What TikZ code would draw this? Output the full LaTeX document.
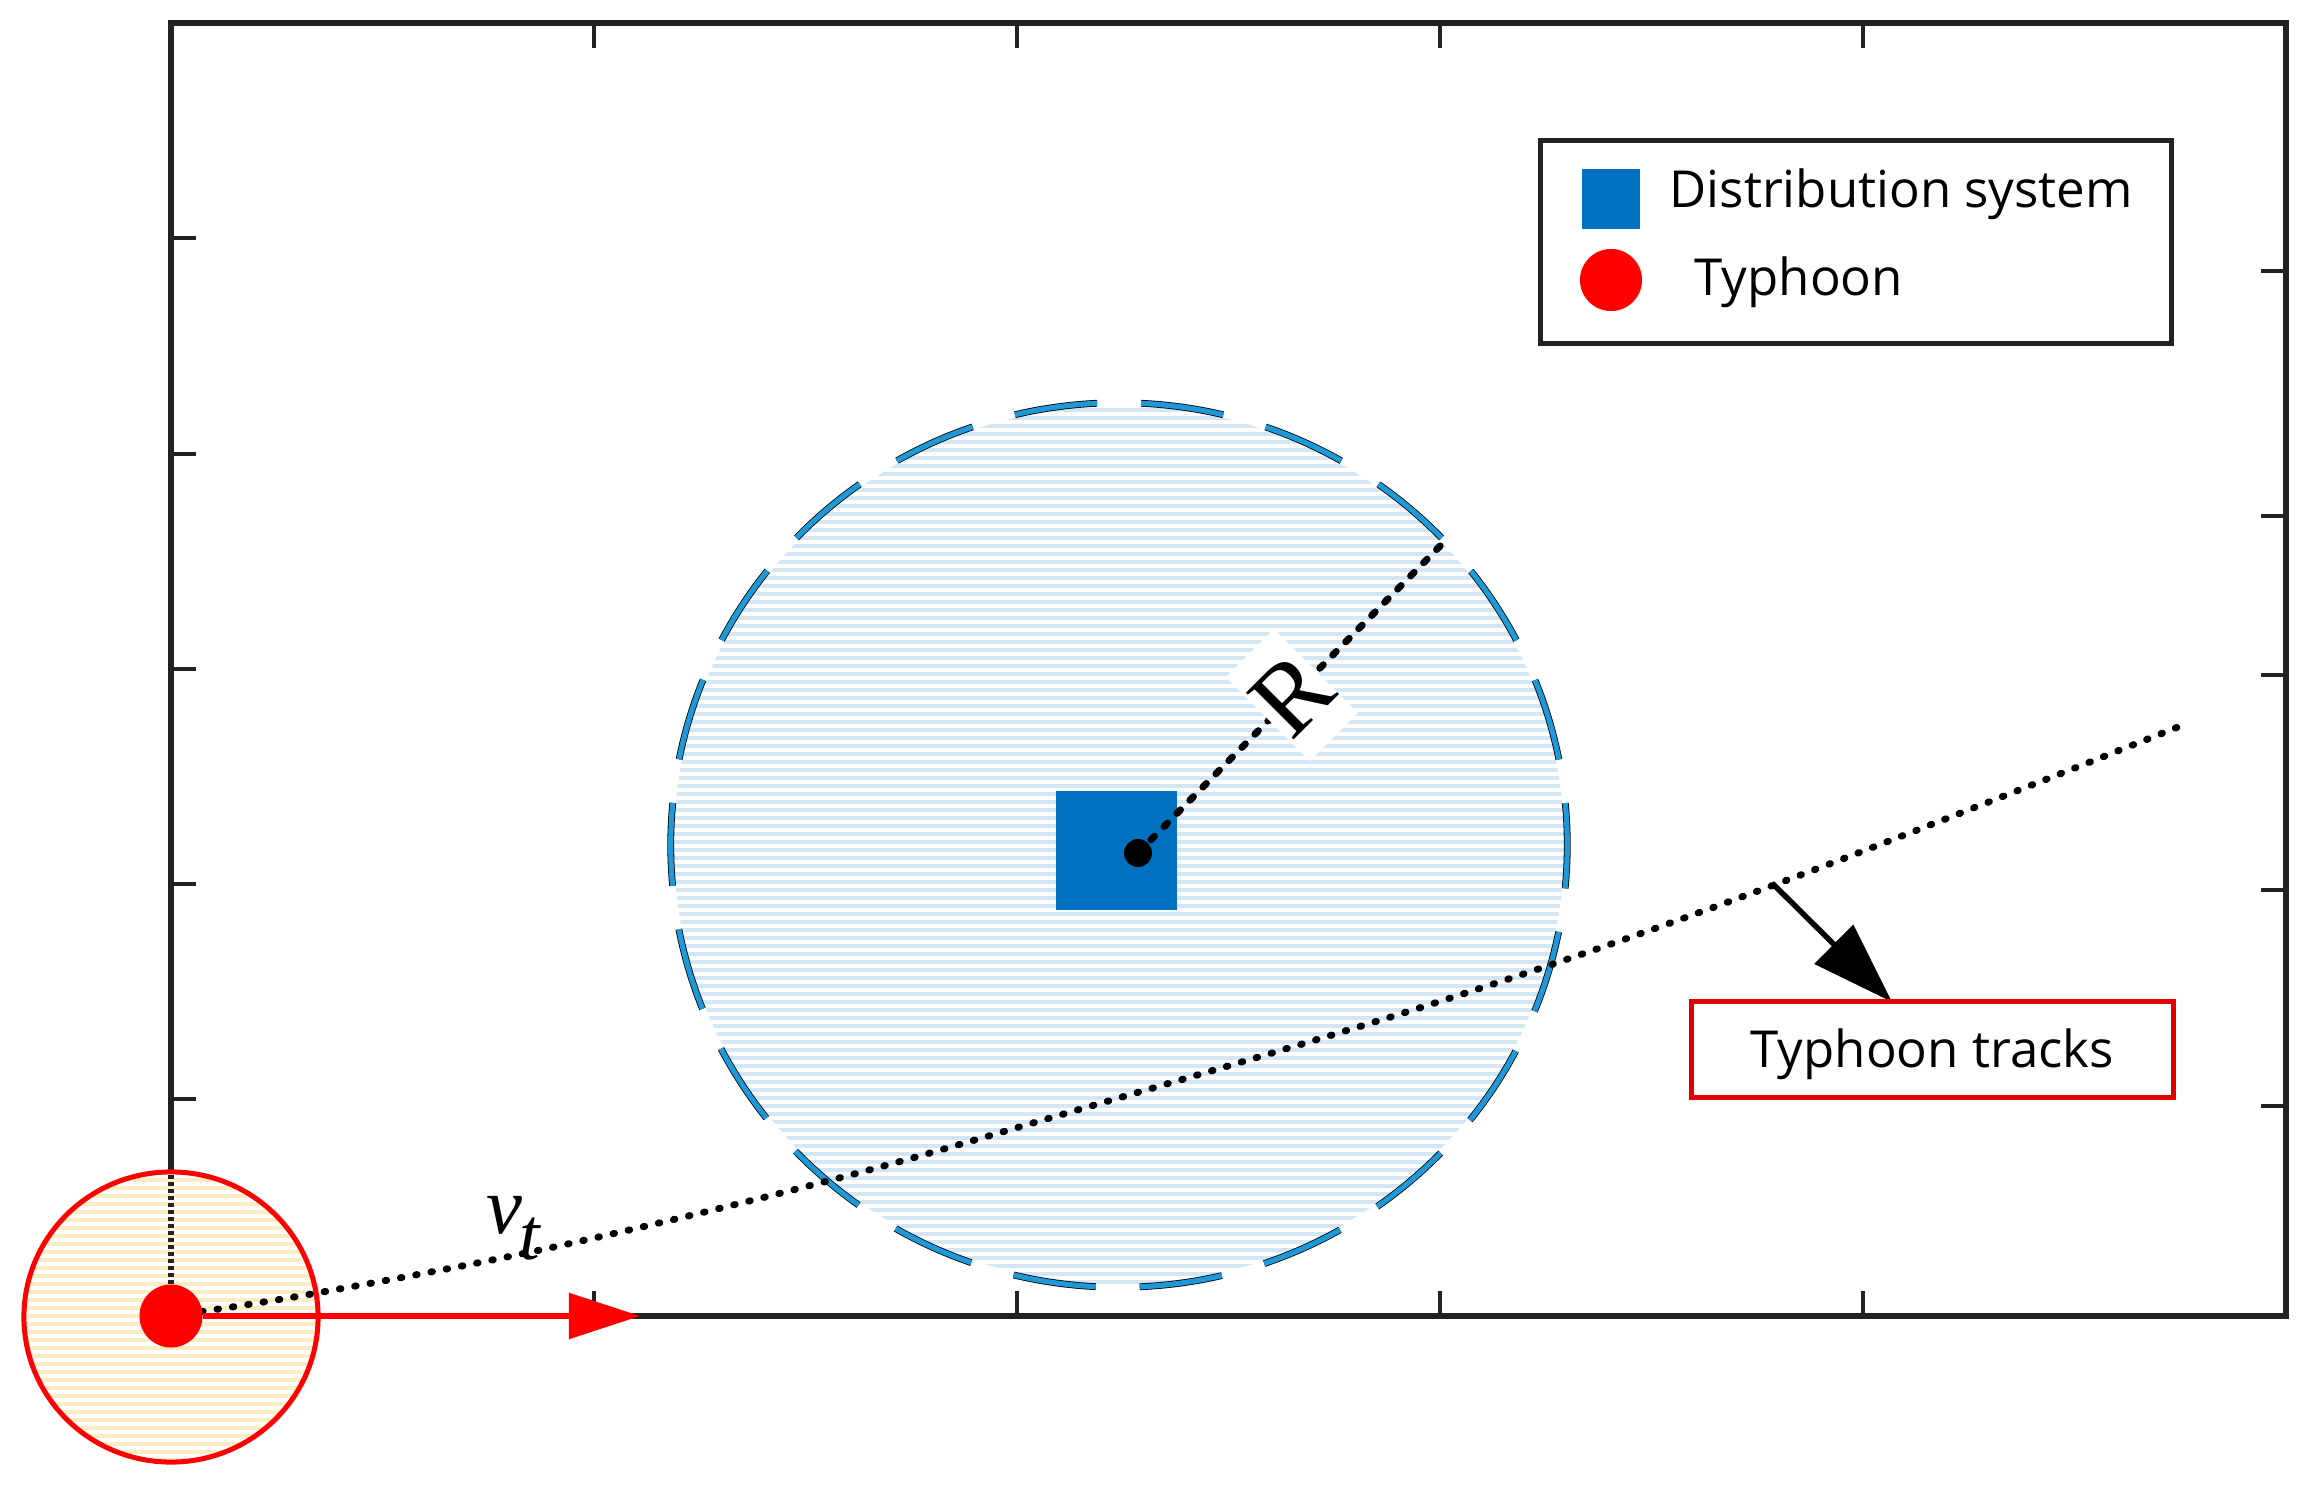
\documentclass[tikz,border=0pt]{standalone}
\usepackage{fontspec}
\newfontfamily\lgd{Open Sans}
\newfontfamily\tms{Liberation Serif}
\usetikzlibrary{arrows.meta}
\definecolor{frame}{HTML}{222222}
\definecolor{dsblue}{HTML}{0070C0}
\definecolor{ringblue}{HTML}{1E98D6}
\definecolor{stripeblue}{HTML}{D3E6F5}
\definecolor{stripeyel}{HTML}{FFEDC2}
\definecolor{boxred}{HTML}{E00000}
\begin{document}
\begin{tikzpicture}[x=0.01cm,y=-0.01cm,
  axisline/.style={draw=frame,line width=0.06cm},
  tickline/.style={draw=frame,line width=0.035cm},
  lbl/.style={font=\lgd\fontsize{14.5}{17}\selectfont, inner sep=0pt, anchor=base west},
  ringdash/.style={dash pattern=on 0.83cm off 0.44cm, dash phase=0.41cm},
  trackline/.style={black, line width=0.07cm, line cap=round, dash pattern=on 0.015cm off 0.14cm},
  rline/.style={black, line width=0.07cm, line cap=round, dash pattern=on 0.05cm off 0.135cm},
]
\useasboundingbox (0,0) rectangle (2308,1485);
\fill[white] (0,0) rectangle (2308,1485);

% impact zone stripes
\begin{scope}
  \clip (1119,845) ellipse [x radius=4.45cm, y radius=4.39cm];
  \foreach \k in {0,...,112} \draw[stripeblue, line width=0.042cm] (660,{402+8*\k}) -- (1580,{402+8*\k});
\end{scope}
\draw[black, line width=0.068cm, ringdash] (1119,845) ellipse [x radius=4.48cm, y radius=4.42cm];
\draw[ringblue, line width=0.052cm, ringdash] (1119,845) ellipse [x radius=4.48cm, y radius=4.42cm];

% frame and ticks
\draw[axisline] (171,23) rectangle (2286,1316);
\foreach \x in {594,1017,1440,1863} {
  \draw[tickline] (\x,23) -- (\x,48);
  \draw[tickline] (\x,1316) -- (\x,1291);
}
\foreach \y in {238,454,669,884,1099} \draw[tickline] (171,\y) -- (196,\y);
\foreach \y in {271,516,675,890,1106} \draw[tickline] (2286,\y) -- (2261,\y);

% distribution system
\node[fill=dsblue, minimum width=1.21cm, minimum height=1.19cm, inner sep=0] (ds) at (1116.5,850.5) {};
\node[circle, fill=black, minimum size=0.28cm, inner sep=0] (dsdot) at (1138,853) {};
\coordinate (redge) at (1443,543);
\draw[rline] (dsdot.center) -- (redge);
\node[fill=white, rotate=45, minimum width=0.53cm, minimum height=1.19cm, inner sep=0,
      font=\tms\fontsize{29}{29}\selectfont] (Rlbl) at (1292,695) {R};

% typhoon circle
\begin{scope}
  \clip (171,1317) ellipse [x radius=1.47cm, y radius=1.45cm];
  \fill[white] (0,1150) rectangle (340,1480);
  \foreach \k in {0,...,37} \draw[stripeyel, line width=0.042cm] (0,{1172+8*\k}) -- (340,{1172+8*\k});
\end{scope}
\draw[red, line width=0.05cm] (171,1317) ellipse [x radius=1.47cm, y radius=1.45cm];
\coordinate (ttop) at (171,1174);
\coordinate (vtip) at (640,1316);

% track
\draw[trackline] plot[smooth, tension=0.6] coordinates {(171,1316) (317,1293) (554,1247) (820,1183) (1050,1118) (1438,1002) (1774,885) (2183,725)};

\node[circle, fill=red, minimum size=0.63cm, inner sep=0] (tdot) at (171,1316) {};
\draw[frame, line width=0.05cm, dash pattern=on 0.035cm off 0.035cm] (tdot.north) -- (ttop);
\draw[red, line width=0.055cm, -{Triangle[length=0.71cm,width=0.45cm]}] (tdot.east) -- (vtip);

\node[font=\tms\itshape\fontsize{23}{23}\selectfont, inner sep=0, anchor=base west] (vv) at (486,1233) {v};
\node[font=\tms\itshape\fontsize{21}{21}\selectfont, inner sep=0, anchor=base west] (tt) at (519,1259) {t};

% typhoon tracks label
\coordinate (trk) at (1772,883);
\coordinate (trktip) at (1892,1002);
\draw[black, line width=0.055cm, -{Triangle[length=0.82cm,width=0.54cm]}] (trk) -- (trktip);
\node[draw=boxred, line width=0.05cm, fill=white, minimum width=4.81cm, minimum height=0.95cm, inner sep=0] (tbox) at (1932.5,1049.5) {};
\node[lbl] (tboxtxt) at (1750,1067) {Typhoon tracks};

% legend
\node[draw=frame, line width=0.05cm, fill=white, minimum width=6.3cm, minimum height=2.02cm, inner sep=0] (leg) at (1856,242) {};
\node[fill=dsblue, minimum width=0.58cm, minimum height=0.6cm, inner sep=0] (legds) at (1611,199) {};
\node[circle, fill=red, minimum size=0.62cm, inner sep=0] (legty) at (1611,280) {};
\node[lbl] (legdstxt) at (1669,208) {Distribution system};
\node[lbl] (legtytxt) at (1694,295) {Typhoon};
\end{tikzpicture}
\end{document}
